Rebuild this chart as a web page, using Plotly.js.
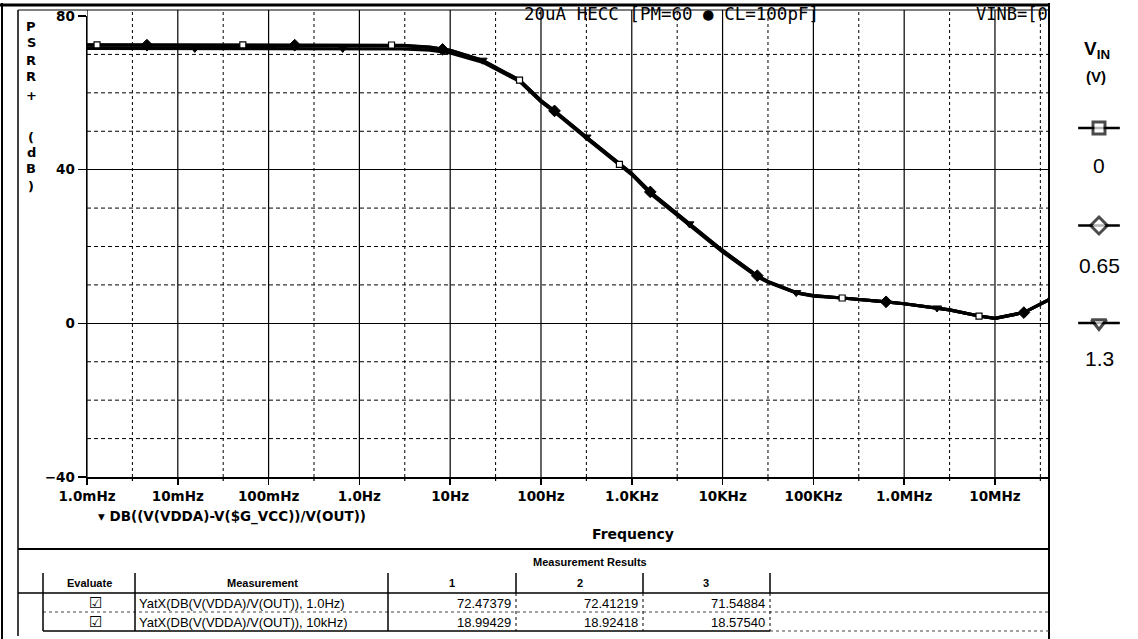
<!DOCTYPE html>
<html><head><meta charset="utf-8">
<script src="https://cdn.plot.ly/plotly-3.0.1.min.js"></script>
<style>html,body{margin:0;padding:0;background:#fff}#chart{width:1138px;height:639px}</style>
</head><body><div id="chart"></div>
<script>
// ---- data ----
const freqHz = [0.001, 0.01, 0.1, 1, 3, 6, 10, 22.7, 58, 100, 141, 316, 731, 1000, 1600, 3160, 4300,
  10000, 24100, 31600, 64700, 100000, 207600, 316000, 632000, 1e6, 2.3e6, 3.16e6, 6.67e6, 1e7, 2.08e7, 3.84e7, 5e7];
const psrrVin0 = [72.47, 72.47, 72.47, 72.47, 72.35, 71.9, 71.1, 68.5, 63.3, 58.0, 55.3, 48.5, 41.4, 39.0, 34.2, 28.5, 25.9,
  18.99, 12.4, 10.9, 8.0, 7.2, 6.6, 6.3, 5.6, 5.1, 4.0, 3.5, 1.9, 1.3, 2.8, 6.0, 8.0];
const psrrVin065 = [72.41, 72.41, 72.41, 72.41, 72.3, 71.85, 71.05, 68.45, 63.25, 57.95, 55.25, 48.45, 41.35, 38.95, 34.15, 28.45, 25.85,
  18.92, 12.35, 10.85, 7.95, 7.2, 6.6, 6.3, 5.6, 5.1, 4.0, 3.5, 1.9, 1.3, 2.8, 6.0, 8.0];
const psrrVin13 = [71.55, 71.55, 71.55, 71.55, 71.45, 71.1, 70.4, 68.0, 63.0, 57.7, 55.0, 48.2, 41.1, 38.7, 33.8, 28.1, 25.5,
  18.58, 12.1, 10.7, 7.9, 7.1, 6.6, 6.3, 5.6, 5.1, 4.0, 3.5, 1.9, 1.3, 2.8, 6.0, 8.0];

const markFreqVin0 = [0.00129, 0.052, 2.26, 58, 731, 207600, 6.67e6];
const markDbVin0 = [72.47, 72.47, 72.45, 63.3, 41.4, 6.6, 1.9];
const markFreqVin065 = [0.00457, 0.194, 8.24, 141, 1600, 24100, 632000, 2.08e7];
const markDbVin065 = [72.41, 72.41, 71.3, 55.3, 34.2, 12.4, 5.6, 2.8];
const markFreqVin13 = [0.0154, 0.655, 22.7, 317, 4300, 64700, 2.3e6];
const markDbVin13 = [71.55, 71.55, 68.5, 48.5, 25.9, 8.0, 4.0];

const xTickVals = [1e-3, 1e-2, 1e-1, 1, 10, 100, 1e3, 1e4, 1e5, 1e6, 1e7];
const xTickText = ['1.0mHz', '10mHz', '100mHz', '1.0Hz', '10Hz', '100Hz', '1.0KHz', '10KHz', '100KHz', '1.0MHz', '10MHz'];
const yTickVals = [-40, 0, 40, 80];
const yMinorVals = [-30, -20, -10, 10, 20, 30, 50, 60, 70];
const yTitleChars = ['P', 'S', 'R', 'R', '+', '(', 'd', 'B', ')'];

const legendVin = ['0', '0.65', '1.3'];
const legendSymbols = ['square', 'diamond', 'triangle-down'];

const tableHeaders = ['Evaluate', 'Measurement', '1', '2', '3'];
const measNames = ['YatX(DB(V(VDDA)/V(OUT)), 1.0Hz)', 'YatX(DB(V(VDDA)/V(OUT)), 10kHz)'];
const measVin0 = ['72.47379', '18.99429'];
const measVin065 = ['72.41219', '18.92418'];
const measVin13 = ['71.54884', '18.57540'];

// ---- layout helpers (pixel -> paper) ----
const W = 1138, H = 639;
const px = x => x / W;
const py = y => 1 - y / H;
const PL = 87, PR = 1048, PT = 16, PB = 477;
const tickFont = {family: 'DejaVu Sans', size: 13.5, weight: 'bold', color: '#000'};

const traces = [];
[psrrVin13, psrrVin065, psrrVin0].forEach(s => traces.push({
  x: freqHz, y: s, type: 'scatter', mode: 'lines', line: {color: '#000', width: 3.2}, hoverinfo: 'skip'
}));
traces.push({x: markFreqVin0, y: markDbVin0, type: 'scatter', mode: 'markers',
  marker: {symbol: 'square', size: 6, color: '#fff', line: {color: '#000', width: 1.2}}});
traces.push({x: markFreqVin065, y: markDbVin065, type: 'scatter', mode: 'markers',
  marker: {symbol: 'diamond', size: 9, color: '#000', line: {color: '#000', width: 1}}});
traces.push({x: markFreqVin13, y: markDbVin13, type: 'scatter', mode: 'markers',
  marker: {symbol: 'triangle-down', size: 8, color: '#000', line: {color: '#000', width: 1}}});
// legend keys
legendVin.forEach((v, i) => traces.push({
  x: [0, 1, 2], y: [i, i, i], xaxis: 'x2', yaxis: 'y2', type: 'scatter', mode: 'lines+markers',
  line: {color: '#000', width: 2.5},
  marker: {symbol: legendSymbols[i], size: [0, i === 0 ? 12 : 13, 0], color: '#fff', line: {color: '#000', width: 3}},
  hoverinfo: 'skip'
}));

const shapes = [];
const L = (x0, y0, x1, y1, w, dash, color) => shapes.push({type: 'line', xref: 'paper', yref: 'paper',
  x0: px(x0), y0: py(y0), x1: px(x1), y1: py(y1), line: {color: color || '#000', width: w, dash: dash || 'solid'}, layer: 'above'});

// vertical grid (decades solid, half-decades dashed)
for (let n = -3; n <= 7; n++) {
  shapes.push({type: 'line', xref: 'x', yref: 'paper', x0: Math.pow(10, n), x1: Math.pow(10, n), y0: py(PB), y1: py(10),
    line: {color: '#000', width: 1.2}, layer: 'between'});
  const h = Math.pow(10, n + 0.5);
  shapes.push({type: 'line', xref: 'x', yref: 'paper', x0: h, x1: h, y0: py(PB), y1: py(10),
    line: {color: '#000', width: 1, dash: '3px,3px'}, layer: 'between'});
  shapes.push({type: 'line', xref: 'x', yref: 'paper', x0: h, x1: h, y0: py(PB), y1: py(PB + 4),
    line: {color: '#000', width: 1.2}, layer: 'above'});
}
// horizontal dashed grid
yMinorVals.forEach(v => shapes.push({type: 'line', xref: 'paper', yref: 'y', x0: px(PL), x1: px(PR), y0: v, y1: v,
  line: {color: '#000', width: 1, dash: '4px,3px'}, layer: 'between'}));

// outer frame
L(0, 5, 1050, 5, 3);
L(18, 10, PR, 10, 1);
L(2, 3, 2, 639, 2);
L(18, 10, 18, 636, 1.5);
L(1049, 3, 1049, 639, 2);
// table
L(18, 549, 1049, 549, 2);
L(18, 593, 1049, 593, 1.5);
L(43, 612, 1049, 612, 1, 'dot', '#444');
L(43, 631, 770, 631, 1.5);
L(770, 631, 1049, 631, 1, 'dot', '#444');
[43, 135, 388].forEach(x => L(x, 573, x, 631, 1.5));
[516, 643, 770].forEach(x => { L(x, 573, x, 593, 1.5); L(x, 593, x, 631, 1, 'dot'); });

const ann = [];
const A = (text, x, y, opts) => ann.push(Object.assign({text, xref: 'paper', yref: 'paper', x: px(x), y: py(y),
  showarrow: false, xanchor: 'center', yanchor: 'middle', font: {family: 'DejaVu Sans', size: 13, weight: 'bold', color: '#000'}}, opts || {}));

// stacked y-axis title
const yTitleY = [27, 43, 60, 77, 95, 137, 152, 168, 186];
yTitleChars.forEach((c, i) => A(c, 31, yTitleY[i], {font: {family: 'DejaVu Sans', size: 13, weight: 'bold', color: '#000'}}));
A('▾ DB((V(VDDA)-V($G_VCC))/V(OUT))', 96, 516, {xanchor: 'left', font: {family: 'DejaVu Sans', size: 13.5, weight: 'bold', color: '#000'}});
A('Frequency', 633, 534, {font: {family: 'DejaVu Sans', size: 14, weight: 'bold', color: '#000'}});
A('20uA HECC [PM=60 ● CL=100pF]', 522, 14, {xanchor: 'left', font: {family: 'DejaVu Sans Mono', size: 17.5, color: '#000'}});
A('VINB=[0', 974, 14, {xanchor: 'left', font: {family: 'DejaVu Sans Mono', size: 17, color: '#000'}});
// legend texts
A('<b>V<sub>IN</sub></b>', 1097, 50, {font: {family: 'Liberation Sans', size: 19, color: '#000'}});
A('<b>(V)</b>', 1096, 77, {font: {family: 'Liberation Sans', size: 15, color: '#000'}});
const legendTextY = [166, 265, 358];
legendVin.forEach((v, i) => A(v, 1099, legendTextY[i], {font: {family: 'Liberation Sans', size: 21, color: '#000'}}));
// table texts
const hdrFont = {family: 'Liberation Sans', size: 11, weight: 'bold', color: '#000'};
const cellFont = {family: 'Liberation Sans', size: 13, color: '#000'};
A('Measurement Results', 590, 562, {font: hdrFont});
const hdrX = [89, 262, 452, 580, 706];
tableHeaders.forEach((t, i) => A(t, hdrX[i], 583, {font: hdrFont}));
const rowY = [603, 622];
measNames.forEach((m, r) => {
  A('☑', 95, rowY[r], {font: {family: 'DejaVu Sans', size: 15, color: '#000'}});
  A(m, 137, rowY[r], {xanchor: 'left', font: cellFont});
  A(measVin0[r], 513, rowY[r], {xanchor: 'right', font: cellFont});
  A(measVin065[r], 640, rowY[r], {xanchor: 'right', font: cellFont});
  A(measVin13[r], 767, rowY[r], {xanchor: 'right', font: cellFont});
});

const layout = {
  width: W, height: H, margin: {l: 0, r: 0, t: 0, b: 0, pad: 0},
  paper_bgcolor: '#fff', plot_bgcolor: '#fff', showlegend: false,
  xaxis: {type: 'log', domain: [px(PL), px(PR)], range: [-3, 7.584], anchor: 'y',
    tickmode: 'array', tickvals: xTickVals, ticktext: xTickText, ticks: 'outside', ticklen: 6, tickwidth: 1.5, tickcolor: '#000',
    showline: true, linecolor: '#000', linewidth: 1.5, showgrid: false, zeroline: false, tickfont: tickFont, fixedrange: true},
  yaxis: {domain: [py(PB), py(PT)], range: [-40, 80], anchor: 'x',
    tickmode: 'array', tickvals: yTickVals, ticks: 'outside', ticklen: 8, tickwidth: 1.5, tickcolor: '#000',
    showline: true, linecolor: '#000', linewidth: 1.5, showgrid: true, gridcolor: '#000', gridwidth: 1.3,
    zeroline: false, tickfont: tickFont, fixedrange: true},
  xaxis2: {domain: [px(1074), px(1124)], range: [-0.2, 2.2], visible: false, anchor: 'y2', fixedrange: true},
  yaxis2: {domain: [py(341), py(110)], range: [2.185, -0.185], visible: false, anchor: 'x2', fixedrange: true},
  shapes: shapes, annotations: ann
};
Plotly.newPlot('chart', traces, layout, {displayModeBar: false, staticPlot: true});
</script></body></html>
